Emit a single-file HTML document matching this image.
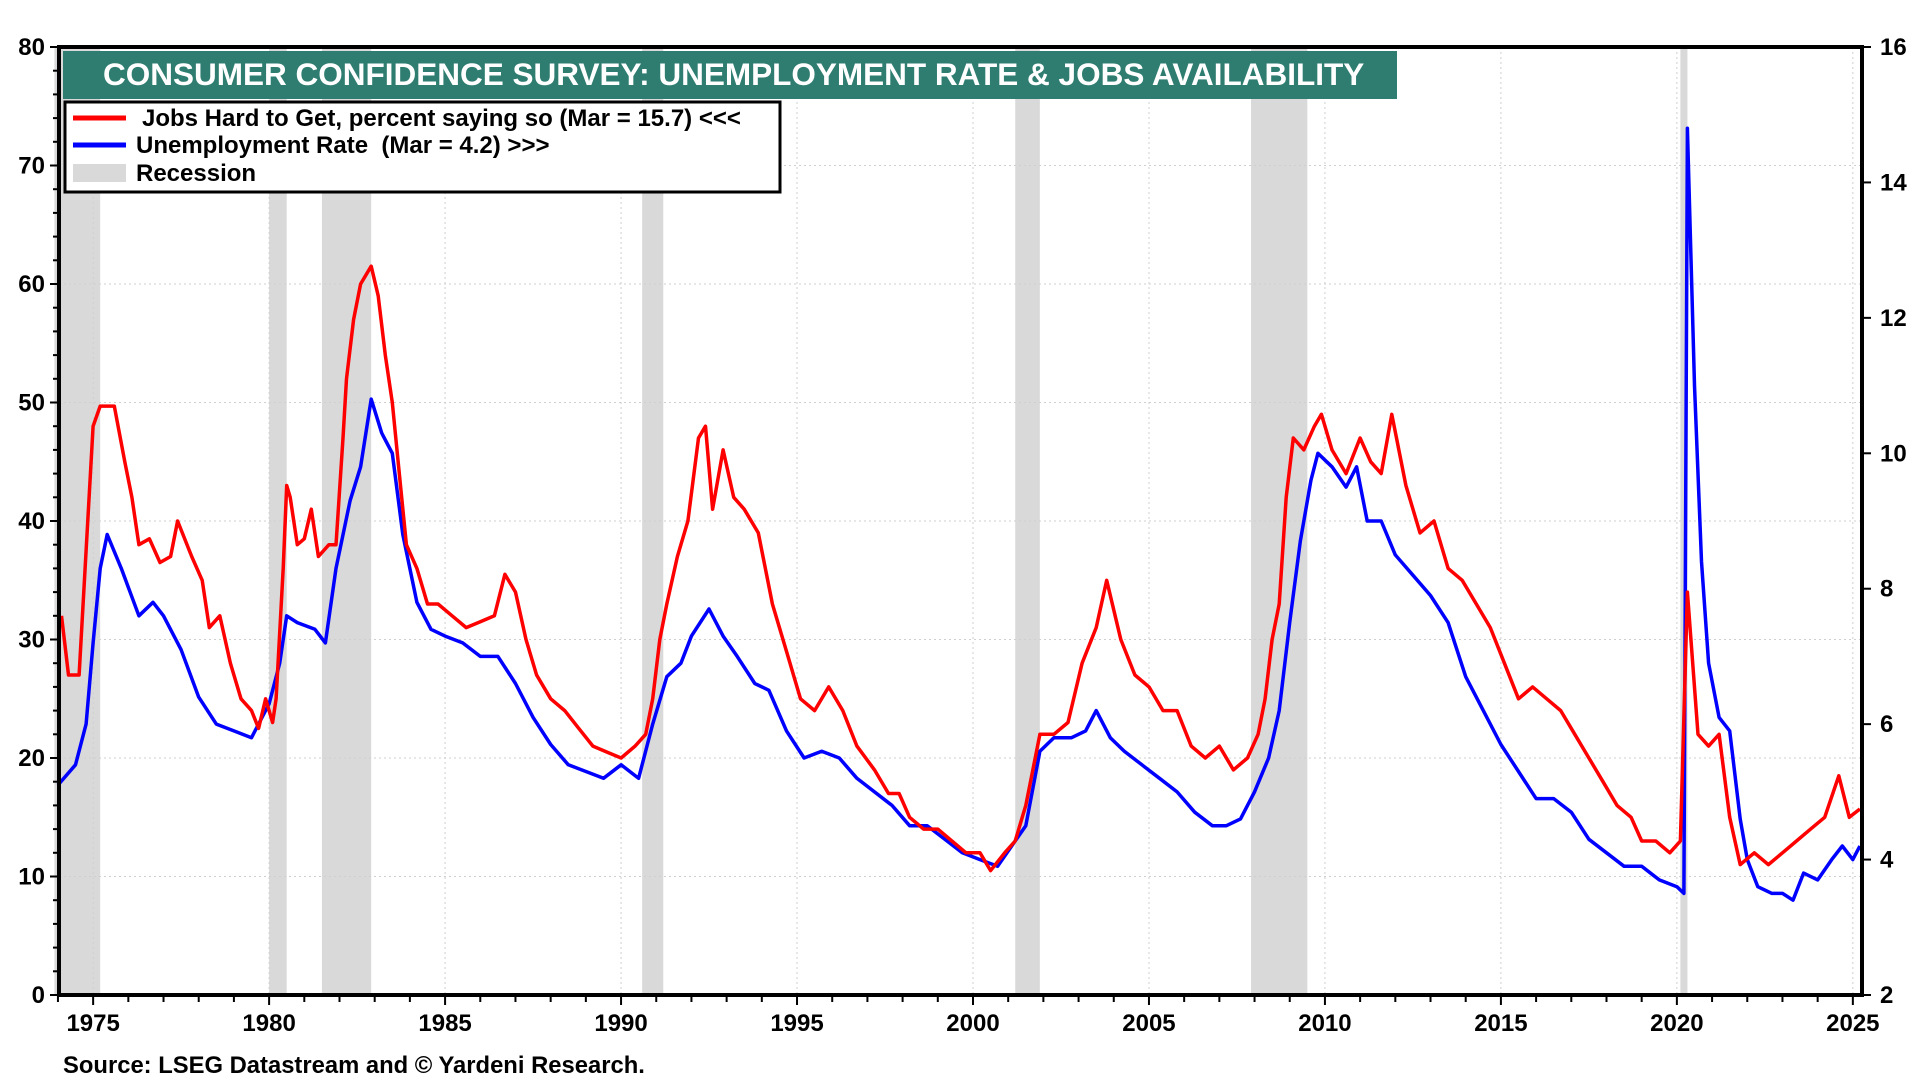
<!DOCTYPE html>
<html><head><meta charset="utf-8"><style>
html,body{margin:0;padding:0;background:#fff;width:1920px;height:1080px;overflow:hidden}
svg text{font-family:"Liberation Sans",Arial,sans-serif;font-weight:bold}
</style></head><body>
<svg id="chart" width="1920" height="1080" xmlns="http://www.w3.org/2000/svg"></svg>
<script>
const recessionStarts=[1973.9,1980.0,1981.5,1990.6,2001.2,2007.9,2020.1];
const recessionEnds=[1975.2,1980.5,1982.9,1991.2,2001.9,2009.5,2020.3];
const leftTicks=[0,10,20,30,40,50,60,70,80];
const rightTicks=[2,4,6,8,10,12,14,16];
const yearTicks=[1975,1980,1985,1990,1995,2000,2005,2010,2015,2020,2025];
const jobsYears=[1974.1,1974.3,1974.6,1975.0,1975.2,1975.6,1975.9,1976.1,1976.3,1976.6,1976.9,1977.2,1977.4,1977.8,1978.1,1978.3,1978.6,1978.9,1979.2,1979.5,1979.7,1979.9,1980.1,1980.2,1980.4,1980.5,1980.6,1980.8,1981.0,1981.2,1981.4,1981.7,1981.9,1982.1,1982.2,1982.4,1982.6,1982.9,1983.1,1983.3,1983.5,1983.7,1983.9,1984.2,1984.5,1984.8,1985.2,1985.6,1986.0,1986.4,1986.7,1987.0,1987.3,1987.6,1988.0,1988.4,1988.8,1989.2,1989.6,1990.0,1990.4,1990.7,1990.9,1991.1,1991.3,1991.6,1991.9,1992.2,1992.4,1992.6,1992.9,1993.2,1993.5,1993.9,1994.3,1994.7,1995.1,1995.5,1995.9,1996.3,1996.7,1997.2,1997.6,1997.9,1998.2,1998.6,1999.0,1999.4,1999.8,2000.2,2000.5,2000.9,2001.2,2001.5,2001.9,2002.3,2002.7,2003.1,2003.5,2003.8,2004.2,2004.6,2005.0,2005.4,2005.8,2006.2,2006.6,2007.0,2007.4,2007.8,2008.1,2008.3,2008.5,2008.7,2008.9,2009.1,2009.4,2009.7,2009.9,2010.2,2010.6,2011.0,2011.3,2011.6,2011.9,2012.3,2012.7,2013.1,2013.5,2013.9,2014.3,2014.7,2015.1,2015.5,2015.9,2016.3,2016.7,2017.1,2017.5,2017.9,2018.3,2018.7,2019.0,2019.4,2019.8,2020.1,2020.3,2020.6,2020.9,2021.2,2021.5,2021.8,2022.2,2022.6,2023.0,2023.4,2023.8,2024.2,2024.6,2024.9,2025.2];
const jobsValues=[32,27,27,48,49.7,49.7,45,42,38,38.5,36.5,37,40,37,35,31,32,28,25,24,22.5,25,23,25,36,43,42,38,38.5,41,37,38,38,47,52,57,60,61.5,59,54,50,44,38,36,33,33,32,31,31.5,32,35.5,34,30,27,25,24,22.5,21,20.5,20,21,22,25,30,33,37,40,47,48,41,46,42,41,39,33,29,25,24,26,24,21,19,17,17,15,14,14,13,12,12,10.5,12,13,16,22,22,23,28,31,35,30,27,26,24,24,21,20,21,19,20,22,25,30,33,42,47,46,48,49,46,44,47,45,44,49,43,39,40,36,35,33,31,28,25,26,25,24,22,20,18,16,15,13,13,12,13,34,22,21,22,15,11,12,11,12,13,14,15,18.5,15,15.7];
const unempYears=[1974.0,1974.5,1974.8,1975.0,1975.2,1975.4,1975.8,1976.3,1976.7,1977.0,1977.5,1978.0,1978.5,1979.0,1979.5,1980.0,1980.3,1980.5,1980.8,1981.3,1981.6,1981.9,1982.3,1982.6,1982.9,1983.2,1983.5,1983.8,1984.2,1984.6,1985.0,1985.5,1986.0,1986.5,1987.0,1987.5,1988.0,1988.5,1989.0,1989.5,1990.0,1990.5,1990.9,1991.3,1991.7,1992.0,1992.5,1992.9,1993.3,1993.8,1994.2,1994.7,1995.2,1995.7,1996.2,1996.7,1997.2,1997.7,1998.2,1998.7,1999.2,1999.7,2000.2,2000.7,2001.1,2001.5,2001.9,2002.3,2002.8,2003.2,2003.5,2003.9,2004.3,2004.8,2005.3,2005.8,2006.3,2006.8,2007.2,2007.6,2008.0,2008.4,2008.7,2009.0,2009.3,2009.6,2009.8,2010.2,2010.6,2010.9,2011.2,2011.6,2012.0,2012.5,2013.0,2013.5,2014.0,2014.5,2015.0,2015.5,2016.0,2016.5,2017.0,2017.5,2018.0,2018.5,2019.0,2019.5,2020.0,2020.2,2020.3,2020.5,2020.7,2020.9,2021.2,2021.5,2021.8,2022.0,2022.3,2022.7,2023.0,2023.3,2023.6,2024.0,2024.4,2024.7,2025.0,2025.2];
const unempValues=[5.1,5.4,6.0,7.2,8.3,8.8,8.3,7.6,7.8,7.6,7.1,6.4,6.0,5.9,5.8,6.3,6.9,7.6,7.5,7.4,7.2,8.3,9.3,9.8,10.8,10.3,10.0,8.8,7.8,7.4,7.3,7.2,7.0,7.0,6.6,6.1,5.7,5.4,5.3,5.2,5.4,5.2,6.0,6.7,6.9,7.3,7.7,7.3,7.0,6.6,6.5,5.9,5.5,5.6,5.5,5.2,5.0,4.8,4.5,4.5,4.3,4.1,4.0,3.9,4.2,4.5,5.6,5.8,5.8,5.9,6.2,5.8,5.6,5.4,5.2,5.0,4.7,4.5,4.5,4.6,5.0,5.5,6.2,7.5,8.7,9.6,10.0,9.8,9.5,9.8,9.0,9.0,8.5,8.2,7.9,7.5,6.7,6.2,5.7,5.3,4.9,4.9,4.7,4.3,4.1,3.9,3.9,3.7,3.6,3.5,14.8,11.0,8.4,6.9,6.1,5.9,4.6,4.0,3.6,3.5,3.5,3.4,3.8,3.7,4.0,4.2,4.0,4.2];

const NS='http://www.w3.org/2000/svg';
const svg=document.getElementById('chart');
const L=59,R=1862,T=47,B=995,X0=1974.03,X1=2025.26;
const x=v=>L+(v-X0)/(X1-X0)*(R-L);
const yl=v=>B-v/80*(B-T);
const yr=v=>B-(v-2)/14*(B-T);
function mk(tag,attrs,parent){const e=document.createElementNS(NS,tag);for(const k in attrs)e.setAttribute(k,attrs[k]);(parent||svg).appendChild(e);return e;}

const gRec=mk('g',{});


recessionStarts.forEach((s,i)=>{
  const r=mk('rect',{x:x(s),y:T,width:x(recessionEnds[i])-x(s),height:B-T,fill:'#d9d9d9'},gRec);
  
  
});
const gGrid=mk('g',{stroke:'#cfcfcf','stroke-width':1,'stroke-dasharray':'2,3'});


leftTicks.slice(1,-1).forEach(v=>mk('line',{x1:L,x2:R,y1:yl(v),y2:yl(v)},gGrid));
yearTicks.forEach(v=>mk('line',{x1:x(v),x2:x(v),y1:T,y2:B},gGrid));

function line(xs,ys,yf,color,name){
  const d=xs.map((v,i)=>(i?'L':'M')+x(v).toFixed(1)+','+yf(ys[i]).toFixed(1)).join('');
  const p=mk('path',{d:d,fill:'none',stroke:color,'stroke-width':3.5,'stroke-linejoin':'round'});
  
  
}
line(unempYears,unempValues,yr,'#0000ff','unemployment-rate-line');
line(jobsYears,jobsValues,yl,'#ff0000','jobs-hard-to-get-line');

const frame=mk('rect',{x:L,y:T,width:R-L,height:B-T,fill:'none',stroke:'#000','stroke-width':4});


const gAx=mk('g',{stroke:'#000','stroke-width':2});
for(let v=0;v<=80;v+=2){const w=v%10===0?9:6;mk('line',{x1:L-w,x2:L,y1:yl(v),y2:yl(v)},gAx);}
rightTicks.forEach(v=>mk('line',{x1:R,x2:R+9,y1:yr(v),y2:yr(v)},gAx));
for(let yv=1974;yv<=2025;yv++){mk('line',{x1:x(yv),x2:x(yv),y1:B,y2:B+(yv%5===0?10:7)},gAx);}
leftTicks.forEach(v=>{const t=mk('text',{x:L-14,y:yl(v)+8,'text-anchor':'end','font-size':24});t.textContent=v;
  
  });
rightTicks.forEach(v=>{const t=mk('text',{x:R+18,y:yr(v)+8,'font-size':24});t.textContent=v;
  
  });
yearTicks.forEach(v=>{const t=mk('text',{x:x(v),y:1031,'text-anchor':'middle','font-size':24});t.textContent=v;
  
  });
</script>
<svg style="position:absolute;left:0;top:0" width="1920" height="1080" xmlns="http://www.w3.org/2000/svg">
<g>
<rect x="63" y="51" width="1334" height="48" fill="#2e7d70"/>
<text x="103" y="85" fill="#fff" font-size="31.5" font-family="Liberation Sans, Arial, sans-serif" font-weight="bold">CONSUMER CONFIDENCE SURVEY: UNEMPLOYMENT RATE &amp; JOBS AVAILABILITY</text>
</g>
<g font-family="Liberation Sans, Arial, sans-serif" font-weight="bold" font-size="24">
<rect x="65" y="102" width="715" height="90" fill="#fff" stroke="#000" stroke-width="3"/>
<line x1="73" y1="118" x2="126" y2="118" stroke="#ff0000" stroke-width="5"/>
<text x="142" y="126">Jobs Hard to Get, percent saying so (Mar = 15.7) &lt;&lt;&lt;</text>
<line x1="73" y1="145" x2="126" y2="145" stroke="#0000ff" stroke-width="5"/>
<text x="136" y="153" xml:space="preserve">Unemployment Rate  (Mar = 4.2) &gt;&gt;&gt;</text>
<rect x="73" y="164" width="53" height="18" fill="#d9d9d9"/>
<text x="136" y="181">Recession</text>
</g>
<text x="63" y="1073" font-size="23.8" font-family="Liberation Sans, Arial, sans-serif" font-weight="bold">Source: LSEG Datastream and © Yardeni Research.</text>
</svg>
</body></html>
